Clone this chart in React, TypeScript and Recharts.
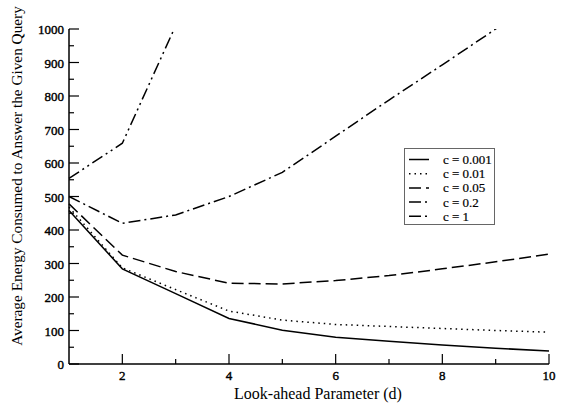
import { LineChart, Line, XAxis, YAxis, Legend } from 'recharts';

const SERIF = '"Liberation Serif", "Times New Roman", serif';

// look-ahead parameter d
const dValues = [1, 2, 3, 4, 5, 6, 7, 8, 9, 10];

// average energy per query, one array per c
const c0001 = [458, 284, 210, 136, 101, 80, 68, 57, 47, 39];
const c001 = [468, 287, 222, 158, 131, 118, 112, 106, 100, 95];
const c005 = [478, 325, 276, 241, 239, 249, 264, 284, 305, 328];
const c02 = [500, 420, 445, 500, 572, 680, 788, 893, 1000, 1110];
const c1 = [554, 659, 1010, null, null, null, null, null, null, null];

const xTicks = [2, 3, 4, 5, 6, 7, 8, 9, 10];
const yTicks = [0, 50, 100, 150, 200, 250, 300, 350, 400, 450, 500, 550, 600, 650, 700, 750, 800, 850, 900, 950, 1000];

const series = [
  { key: 'c0001', name: 'c = 0.001', dash: undefined },
  { key: 'c001', name: 'c = 0.01', dash: '1.5 4' },
  { key: 'c005', name: 'c = 0.05', dash: '12 5' },
  { key: 'c02', name: 'c = 0.2', dash: '12 4 2 4' },
  { key: 'c1', name: 'c = 1', dash: '12 4 2 4 2 4' },
];

const data = dValues.map((d, i) => ({
  d,
  c0001: c0001[i],
  c001: c001[i],
  c005: c005[i],
  c02: c02[i],
  c1: c1[i],
}));

// tick labels look heavier than the titles in the original, a thin stroke does it
const tickText = { fontSize: 13, fontFamily: SERIF, fill: '#000', stroke: '#000', strokeWidth: 0.4 };

// eslint-disable-next-line @typescript-eslint/no-explicit-any
const BottomTick = (props: any) => {
  const { x, y, payload } = props;
  const major = payload.value % 2 === 0;
  return (
    <g>
      <line x1={x} x2={x} y1={y} y2={y - (major ? 10 : 5)} stroke="#000" strokeWidth={1.2} />
      {major && (
        <text x={x} y={y + 16} textAnchor="middle" {...tickText}>
          {payload.value}
        </text>
      )}
    </g>
  );
};

// eslint-disable-next-line @typescript-eslint/no-explicit-any
const TopTick = (props: any) => {
  const { x, y, payload } = props;
  const major = payload.value % 2 === 0;
  return <line x1={x} x2={x} y1={y} y2={y + (major ? 10 : 5)} stroke="#000" strokeWidth={1.2} />;
};

// eslint-disable-next-line @typescript-eslint/no-explicit-any
const LeftTick = (props: any) => {
  const { x, y, payload } = props;
  const major = payload.value % 100 === 0;
  return (
    <g>
      <line x1={x} x2={x + (major ? 10 : 5)} y1={y} y2={y} stroke="#000" strokeWidth={1.2} />
      {major && (
        <text x={x - 5} y={y + 5} textAnchor="end" {...tickText}>
          {payload.value}
        </text>
      )}
    </g>
  );
};

// eslint-disable-next-line @typescript-eslint/no-explicit-any
const RightTick = (props: any) => {
  const { x, y, payload } = props;
  const major = payload.value % 100 === 0;
  return <line x1={x} x2={x - (major ? 10 : 5)} y1={y} y2={y} stroke="#000" strokeWidth={1.2} />;
};

const XTitle = () => (
  <text x={318} y={399} textAnchor="middle" fontSize={16} fontFamily={SERIF} fill="#000">
    Look-ahead Parameter (d)
  </text>
);

const YTitle = () => (
  <text transform="translate(22,176) rotate(-90)" textAnchor="middle" fontSize={15.3} fontFamily={SERIF} fill="#000">
    Average Energy Consumed to Answer the Given Query
  </text>
);

const LegendBox = () => (
  <div style={{ width: 91, height: 77, border: '1px solid #666', background: '#fff', boxSizing: 'border-box' }}>
    <svg width={89} height={75} style={{ display: 'block' }}>
      {series.map((s, i) => {
        const cy = 10.5 + i * 14.2;
        return (
          <g key={s.key}>
            <line x1={4} x2={24} y1={cy} y2={cy} stroke="#000" strokeWidth={1.5} strokeDasharray={s.dash} />
            <text x={38} y={cy + 4.5} fontSize={13} fontFamily={SERIF} fill="#000" stroke="#000" strokeWidth={0.2}>
              {s.name}
            </text>
          </g>
        );
      })}
    </svg>
  </div>
);

export default function App() {
  return (
    <div style={{ position: 'absolute', left: 0, top: 0, width: 565, height: 412, background: '#fff' }}>
      <LineChart width={565} height={412} data={data} margin={{ top: 29, right: 16, bottom: 0, left: 0 }}>
        <XAxis
          xAxisId="bottom"
          dataKey="d"
          type="number"
          domain={[1, 10]}
          ticks={xTicks}
          interval={0}
          height={48}
          tickSize={0}
          tickMargin={0}
          tickLine={false}
          tick={<BottomTick />}
          axisLine={{ stroke: '#000', strokeWidth: 1.5 }}
          label={{ content: <XTitle /> }}
        />
        <XAxis
          xAxisId="top"
          orientation="top"
          dataKey="d"
          type="number"
          domain={[1, 10]}
          ticks={xTicks}
          interval={0}
          height={0}
          tickSize={0}
          tickMargin={0}
          tickLine={false}
          tick={<TopTick />}
          axisLine={{ stroke: '#000', strokeWidth: 1.5 }}
        />
        <YAxis
          yAxisId="left"
          type="number"
          domain={[0, 1000]}
          allowDataOverflow
          ticks={yTicks}
          interval={0}
          width={69}
          tickSize={0}
          tickMargin={0}
          tickLine={false}
          tick={<LeftTick />}
          axisLine={{ stroke: '#000', strokeWidth: 1.5 }}
          label={{ content: <YTitle /> }}
        />
        <YAxis
          yAxisId="right"
          orientation="right"
          type="number"
          domain={[0, 1000]}
          allowDataOverflow
          ticks={yTicks}
          interval={0}
          width={0}
          tickSize={0}
          tickMargin={0}
          tickLine={false}
          tick={<RightTick />}
          axisLine={{ stroke: '#000', strokeWidth: 1.5 }}
        />
        <Legend
          layout="horizontal"
          verticalAlign="middle"
          align="center"
          content={<LegendBox />}
          wrapperStyle={{ position: 'absolute', left: 404, top: 148, width: 91, height: 77 }}
        />
        {series.map((s) => (
          <Line
            key={s.key}
            xAxisId="bottom"
            yAxisId="left"
            type="linear"
            dataKey={s.key}
            name={s.name}
            stroke="#000"
            strokeWidth={1.5}
            strokeDasharray={s.dash}
            dot={false}
            activeDot={false}
            connectNulls={false}
            isAnimationActive={false}
          />
        ))}
      </LineChart>
    </div>
  );
}
